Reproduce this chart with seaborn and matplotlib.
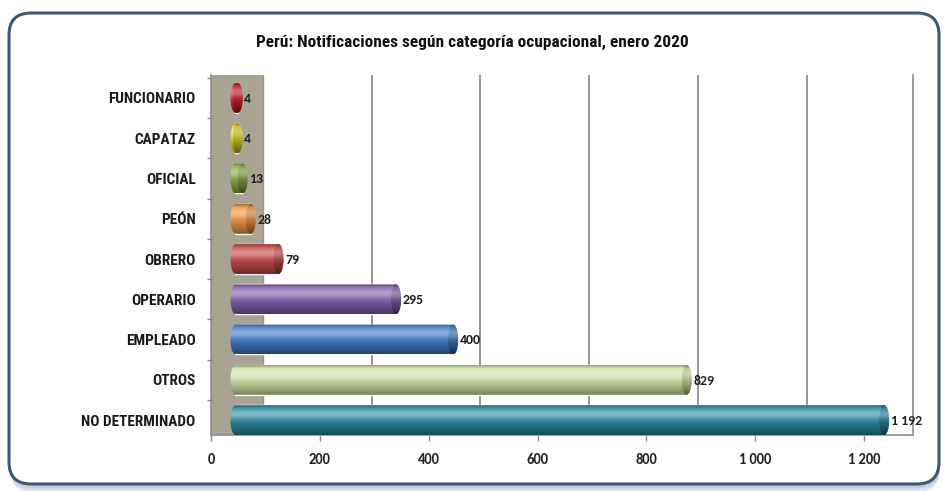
import numpy as np
import matplotlib
matplotlib.use("Agg")
import matplotlib.pyplot as plt
import seaborn as sns
import pandas as pd
from matplotlib.patches import Ellipse, PathPatch, FancyBboxPatch
from matplotlib.path import Path
import matplotlib.colors as mcolors
from matplotlib import font_manager

categories = ["FUNCIONARIO", "CAPATAZ", "OFICIAL", "PEÓN", "OBRERO",
              "OPERARIO", "EMPLEADO", "OTROS", "NO DETERMINADO"]
values = [4, 4, 13, 28, 79, 295, 400, 829, 1192]
value_labels = ["4", "4", "13", "28", "79", "295", "400", "829", "1 192"]
bar_colors = ["#d8272c", "#e3dd1e", "#8db04c", "#f39a45", "#c84b48",
              "#8462b0", "#3f7dc8", "#d4e7a8", "#2b8ba7"]
xticks = [0, 200, 400, 600, 800, 1000, 1200]
xtick_labels = ["0", "200", "400", "600", "800", "1 000", "1 200"]
title = "Perú: Notificaciones según categoría ocupacional, enero 2020"

sns.set_theme(style="white")
names = {f.name for f in font_manager.fontManager.ttflist}


def pick(prefs):
    for n in prefs:
        if n in names:
            return n
    return "DejaVu Sans"


narrow = pick(["Liberation Sans Narrow", "Roboto Condensed", "PT Sans Narrow",
               "Asap Condensed", "Barlow Condensed"])
numfont = pick(["Carlito", "Lato", "Open Sans"])
plt.rcParams["font.family"] = [narrow, "DejaVu Sans"]

W, H = 945, 491
fig = plt.figure(figsize=(W / 100, H / 100), dpi=100)
fig.patch.set_facecolor("white")

# background frame (pixel coordinates)
bg = fig.add_axes([0, 0, 1, 1])
bg.set_xlim(0, W)
bg.set_ylim(H, 0)
bg.axis("off")
for i, (dy, col) in enumerate([(6, "#e6ebf2"), (4, "#d4dce8"), (2, "#c3cfdf")]):
    bg.add_patch(FancyBboxPatch((10, 14 + dy), 930, 472, boxstyle="round,pad=0,rounding_size=22",
                                fc=col, ec="none", zorder=1 + i))
bg.add_patch(FancyBboxPatch((9, 13), 930, 471, boxstyle="round,pad=0,rounding_size=22",
                            fc="white", ec="#3d5873", lw=2.2, zorder=5))

fig.text(0.5, 1 - 42 / H, title, ha="center", va="center", fontsize=12.4,
         fontweight="bold", color="#111111", family=[narrow, "DejaVu Sans"])

ax = fig.add_axes([211 / W, 56 / H, 702 / W, 360 / H])
ax.set_facecolor("none")

DEPTH = 95      # back-wall offset (3D look), data units
START = 45      # bar start offset (3D look)
XMAX = 1290
CAP = 9.2       # half width of end-cap ellipse, data units

df = pd.DataFrame({"category": categories, "value": values})
sns.barplot(data=df, x="value", y="category", hue="category", palette=bar_colors,
            legend=False, orient="h", width=0.74, saturation=1, ax=ax, zorder=3)
bars = sorted(list(ax.patches), key=lambda p: p.get_y() + p.get_height() / 2)

ax.set_xlim(0, XMAX)
ax.set_ylim(8.37, -0.57)

# back wall + back gridlines
ax.axvspan(0, DEPTH, color="#a9a393", zorder=0, lw=0)
for t in xticks[1:]:
    ax.axvline(t + DEPTH, color="#8c8c8c", lw=1.3, zorder=1)
ax.axvline(DEPTH, color="#9a9486", lw=1.0, zorder=1)


def shade_img(base, n=80, dark_scale=1.0):
    rgb = np.array(mcolors.to_rgb(base))
    t = np.linspace(0, 1, n)
    light = 0.4 * np.exp(-((t - 0.3) / 0.18) ** 2)
    dark = 0.45 * t ** 2.2 + 0.3 * np.exp(-(t / 0.07) ** 2)
    img = rgb[None, :] * (1 - dark[:, None] * dark_scale)
    img = img + (1 - img) * light[:, None]
    return np.clip(img[:, None, :], 0, 1)


for p, base, lab in zip(bars, bar_colors, value_labels):
    w = p.get_width()
    y0, h = p.get_y(), p.get_height()
    yc = y0 + h / 2
    s = p.get_x() + START
    e = s + w
    p.set_x(s)
    b = h / 2
    verts = [(s, y0), (e, y0)]
    th = np.linspace(np.pi / 2, -np.pi / 2, 30)
    verts += [(e + CAP * np.cos(a), yc - b * np.sin(a)) for a in th]
    verts += [(s, y0 + h)]
    th2 = np.linspace(-np.pi / 2, -3 * np.pi / 2, 30)
    verts += [(s + CAP * np.cos(a), yc - b * np.sin(a)) for a in th2]
    verts += [(s, y0)]
    codes = [Path.MOVETO] + [Path.LINETO] * (len(verts) - 2) + [Path.CLOSEPOLY]
    sil = PathPatch(Path(verts, codes), fc="none", ec="none")
    ax.add_patch(sil)
    im = ax.imshow(shade_img(base), extent=(s - CAP, e + CAP, y0 + h, y0), origin="upper",
                   aspect="auto", zorder=4, interpolation="bilinear")
    im.set_clip_path(sil)
    cap = Ellipse((e, yc), 2 * CAP, h, fc="none", ec="none")
    ax.add_patch(cap)
    im2 = ax.imshow(shade_img(base, dark_scale=1.3) * 0.88, extent=(e - CAP, e + CAP, y0 + h, y0),
                    origin="upper", aspect="auto", zorder=5, interpolation="bilinear")
    im2.set_clip_path(cap)
    ax.text(e + CAP + 3, yc + 0.02, lab, ha="left", va="center", fontsize=10,
            fontweight="bold", color="#1e1e1e", family=[numfont, "DejaVu Sans"], zorder=6)

ax.set_xlim(0, XMAX)
ax.set_ylim(8.37, -0.57)

ax.set_xticks(xticks)
ax.set_xticklabels(xtick_labels, fontsize=10.5, fontweight="bold", color="#222222",
                   family=[numfont, "DejaVu Sans"])
ax.set_yticks(range(len(categories)))
ax.set_yticklabels(categories, fontsize=11, fontweight="bold", color="#1a1a1a")
ax.set_yticks(np.arange(-0.5, 8.5, 1.0), minor=True)
ax.tick_params(axis="x", which="major", direction="out", length=4, width=1,
               color="#8c8c8c", pad=9, bottom=True)
ax.tick_params(axis="y", which="major", length=0, pad=11)
ax.tick_params(axis="y", which="minor", direction="out", length=3, width=1,
               color="#8c8c8c", left=True)
ax.set_xlabel("")
ax.set_ylabel("")
for side in ["left", "bottom", "right"]:
    ax.spines[side].set_visible(True)
    ax.spines[side].set_color("#8c8c8c")
    ax.spines[side].set_linewidth(1.2)
ax.spines["top"].set_visible(False)
ax.grid(False)

fig.savefig("out.png", dpi=100, facecolor="white")
